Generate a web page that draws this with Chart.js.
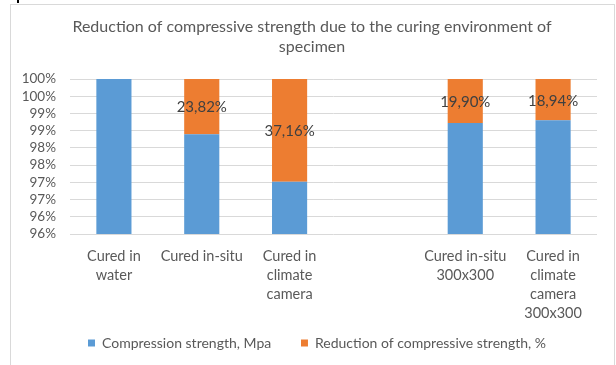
<!DOCTYPE html>
<html>
<head>
<meta charset="utf-8">
<script src="https://cdn.jsdelivr.net/npm/chart.js@4.4.1/dist/chart.umd.min.js"></script>
<style>
  html, body { margin: 0; padding: 0; background: #fff; width: 616px; height: 365px; overflow: hidden; }
  #frame { position: absolute; left: 10px; top: 4px; width: 603px; height: 370px; border: 1px solid #d9d9d9; }
  #mark { position: absolute; left: 17px; top: 0; width: 2px; height: 3px; background: #000; }
  canvas { display: block; }
</style>
</head>
<body>
<div id="mark"></div>
<div id="frame"><canvas id="curing_chart" width="603" height="355"></canvas></div>
<script>
// categories (4th slot is an empty gap in the original chart)
var categories = [
    ['Cured in', 'water'],
    ['Cured in-situ'],
    ['Cured in', 'climate', 'camera'],
    '',
    ['Cured in-situ', '300x300'],
    ['Cured in', 'climate', 'camera', '300x300']
];
// compression strength, MPa
var compressionStrength = [19.2, 14.6, 12.1, null, 15.4, 15.6];
// reduction of compressive strength, %
var reduction = [0, 23.82, 37.16, null, 19.90, 18.94];
var yTicksMin = 95.5;
var yTicksMax = 100;
var yTicksStep = 0.5;

document.addEventListener("DOMContentLoaded", function () {
    var ctx = document.getElementById('curing_chart').getContext('2d');
    var fontFamily = 'Lato, "Open Sans", sans-serif';

    // 100% stacked shares, like the spreadsheet does
    var blueShare = compressionStrength.map(function (s, i) {
        if (s === null) return null;
        return s / (s + reduction[i] / 100) * 100;
    });
    var orangeShare = compressionStrength.map(function (s, i) {
        if (s === null) return null;
        return (reduction[i] / 100) / (s + reduction[i] / 100) * 100;
    });

    // labels on the orange segments
    var segmentLabels = {
        id: 'segmentLabels',
        afterDatasetsDraw: function (chart) {
            var meta = chart.getDatasetMeta(1);
            var c = chart.ctx;
            c.save();
            c.font = '15px ' + fontFamily;
            c.fillStyle = '#404040';
            c.textAlign = 'center';
            c.textBaseline = 'middle';
            meta.data.forEach(function (bar, i) {
                if (!reduction[i]) return;
                var top = Math.max(bar.y, chart.chartArea.top);
                var bottom = Math.min(bar.base, chart.chartArea.bottom);
                c.fillText(reduction[i].toFixed(2).replace('.', ',') + '%', bar.x, (top + bottom) / 2 + 1);
            });
            c.restore();
        }
    };

    // nudge title and legend a little to the right (the chart area has extra right padding)
    var nudgeBoxes = {
        id: 'nudgeBoxes',
        afterLayout: function (chart) {
            chart.titleBlock.left += 8;
            chart.titleBlock.right += 8;
            chart.legend.left += 13;
            chart.legend.right += 13;
        }
    };

    var data = {
        labels: categories,
        datasets: [{
            label: 'Compression strength, Mpa',
            data: blueShare,
            backgroundColor: '#5b9bd5',
            borderWidth: 0
        }, {
            label: 'Reduction of compressive strength, %',
            data: orangeShare,
            backgroundColor: '#ed7d31',
            borderWidth: 0
        }]
    };

    var options = {
        responsive: false,
        maintainAspectRatio: false,
        animation: false,
        layout: { padding: { left: 0, right: 17, top: 0, bottom: 0 } },
        datasets: { bar: { categoryPercentage: 1, barPercentage: 0.4 } },
        scales: {
            x: {
                stacked: true,
                grid: { display: false, drawTicks: false },
                border: { display: false },
                ticks: {
                    color: '#595959',
                    font: { family: fontFamily, size: 14.5, lineHeight: 1.31 },
                    padding: 13,
                    maxRotation: 0,
                    autoSkip: false
                },
                afterFit: function (scale) { scale.height = 88; }
            },
            y: {
                stacked: true,
                min: yTicksMin,
                max: yTicksMax,
                grid: { color: '#d9d9d9', drawTicks: false, lineWidth: 1 },
                border: { display: false },
                ticks: {
                    stepSize: yTicksStep,
                    autoSkip: false,
                    color: '#595959',
                    font: { family: fontFamily, size: 13.5 },
                    padding: 14,
                    callback: function (v) { return Math.round(v) + '%'; }
                },
                afterFit: function (scale) { scale.width = 59; }
            }
        },
        plugins: {
            title: {
                display: true,
                text: ['Reduction of compressive strength due to the curing environment of', 'specimen'],
                color: '#595959',
                font: { family: fontFamily, size: 16, weight: 'normal', lineHeight: 1.25 },
                padding: { top: 12, bottom: 22 }
            },
            legend: {
                position: 'bottom',
                labels: {
                    color: '#595959',
                    font: { family: fontFamily, size: 14 },
                    boxWidth: 7,
                    boxHeight: 7,
                    padding: 14,
                    generateLabels: function (chart) {
                        var items = Chart.defaults.plugins.legend.labels.generateLabels(chart);
                        // wider gap after the first entry
                        items[0].text += '\u2002\u2002\u2009';
                        return items;
                    }
                }
            },
            tooltip: { enabled: false }
        }
    };

    new Chart(ctx, {
        type: 'bar',
        data: data,
        options: options,
        plugins: [segmentLabels, nudgeBoxes]
    });
});
</script>
</body>
</html>
